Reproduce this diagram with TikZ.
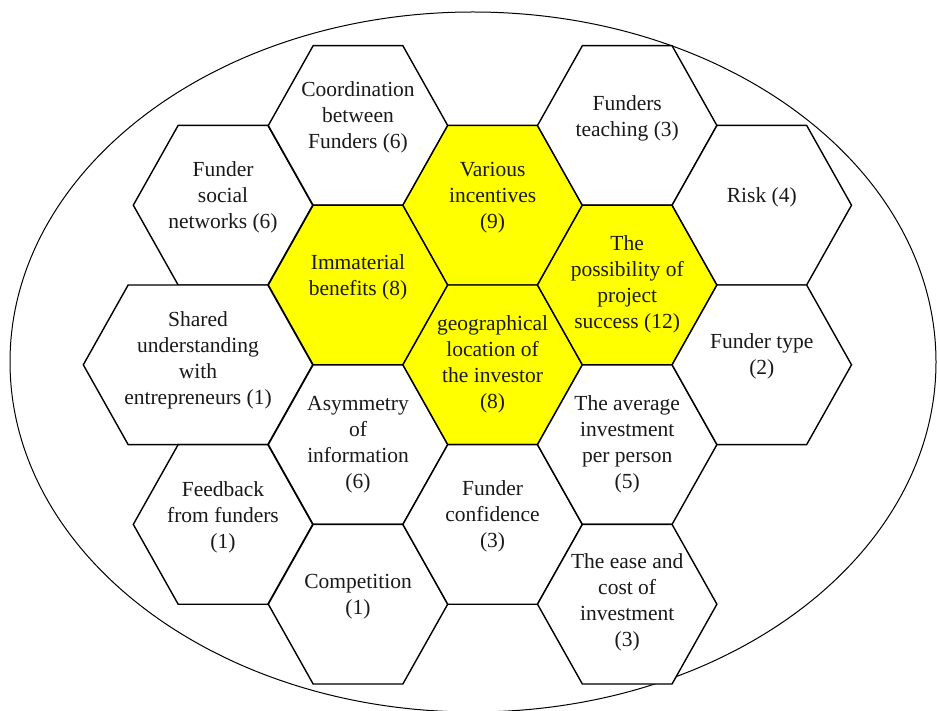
\documentclass[tikz,border=0pt]{standalone}
\usepackage{fontspec}
\setmainfont{Liberation Serif}
\definecolor{cellyellow}{RGB}{255,255,0}
\begin{document}
% #1 name, #2 centre x, #3 centre y, #4 extra half-width, #5 style, #6 text lift, #7 text
\newcommand\honeycell[7]{%
  \path[#5] (#2-89.7-#4,#3) -- (#2-44.85-#4,#3-79.8) -- (#2+44.85+#4,#3-79.8)
    -- (#2+89.7+#4,#3) -- (#2+44.85+#4,#3+79.8) -- (#2-44.85-#4,#3+79.8) -- cycle;
  \node[caption] (#1) at (#2,#3-#6) {#7};
}
\begin{tikzpicture}[x=1pt,y=-1pt,
  cell/.style={draw=black, line width=1.4pt, line join=miter},
  hot/.style={cell, fill=cellyellow},
  cool/.style={cell, fill=white},
  caption/.style={align=center, font=\fontsize{21.5}{26}\selectfont, text=black!90, inner sep=0pt},
]
\useasboundingbox (0,0) rectangle (937,711);

% enclosing ellipse
\draw[line width=1pt] (473,362) ellipse [x radius=463, y radius=350];

% column 1
\honeycell{social}{223}{205.2}{0}{cool}{7.5}{Funder\\social\\networks (6)}
\honeycell{shared}{198}{364.8}{25}{cool}{4}{Shared\\understanding\\with\\entrepreneurs (1)}
\honeycell{feedback}{223}{524.4}{0}{cool}{7}{Feedback\\from funders\\(1)}

% column 2
\honeycell{coord}{358}{125.5}{0}{cool}{8}{Coordination\\between\\Funders (6)}
\honeycell{immaterial}{358}{285}{0}{hot}{8}{Immaterial\\benefits (8)}
\honeycell{asym}{358}{444.6}{0}{cool}{0}{Asymmetry\\of\\information\\(6)}
\honeycell{competition}{358}{604.2}{0}{cool}{7.5}{Competition\\(1)}

% column 3
\honeycell{incentives}{492.6}{205.2}{0}{hot}{7.5}{Various\\incentives\\(9)}
\honeycell{geo}{492.6}{364.8}{0}{hot}{0.5}{geographical\\location of\\the investor\\(8)}
\honeycell{confidence}{492.6}{524.4}{0}{cool}{8}{Funder\\confidence\\(3)}

% column 4
\honeycell{teaching}{627.2}{125.5}{0}{cool}{7}{Funders\\teaching (3)}
\honeycell{success}{627.2}{285}{0}{hot}{0.5}{The\\possibility of\\project\\success (12)}
\honeycell{average}{627.2}{444.6}{0}{cool}{0}{The average\\investment\\per person\\(5)}
\honeycell{ease}{627.2}{604.2}{0}{cool}{1.5}{The ease and\\cost of\\investment\\(3)}

% column 5
\honeycell{risk}{761.8}{205.2}{0}{cool}{8}{Risk (4)}
\honeycell{type}{761.8}{364.8}{0}{cool}{8}{Funder type\\(2)}
\end{tikzpicture}
\end{document}
